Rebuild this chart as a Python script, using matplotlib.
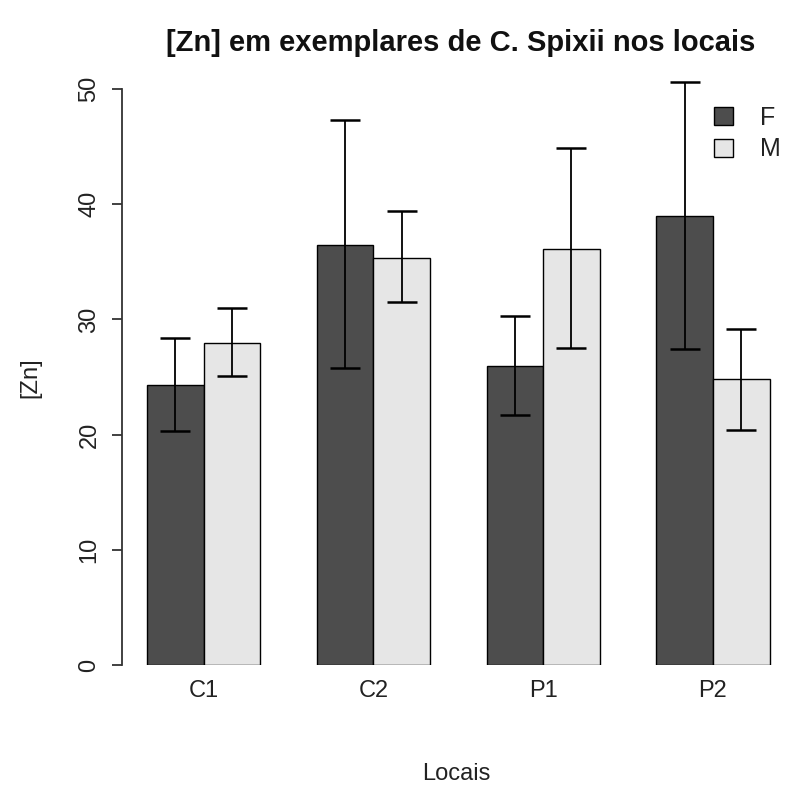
import numpy as np
import matplotlib.pyplot as plt

plt.rcParams["font.family"] = ["Liberation Sans", "DejaVu Sans"]

# Data
locais = ["C1", "C2", "P1", "P2"]
zn_f = [24.3, 36.5, 26.0, 39.0]
zn_m = [27.95, 35.3, 36.1, 24.8]
f_low = [20.3, 25.8, 21.7, 27.4]
f_high = [28.4, 47.3, 30.3, 50.6]
m_low = [25.1, 31.5, 27.5, 20.4]
m_high = [31.0, 39.4, 44.9, 29.2]

col_f = "#4D4D4D"
col_m = "#E6E6E6"

W, H = 787, 785
fig = plt.figure(figsize=(W / 100, H / 100), dpi=100)

# axes placed in pixel coordinates (R style plot region)
left_px, right_px = 122.1, 794.5
bottom_px, top_px = 665, 66
ax = fig.add_axes([left_px / W, (H - bottom_px) / H,
                   (right_px - left_px) / W, (bottom_px - top_px) / H])

# R barplot, beside=TRUE: bars of width 1, one bar gap between groups
x_f = np.array([1.5, 4.5, 7.5, 10.5])
x_m = x_f + 1
centers = x_f + 0.5

ax.bar(x_f, zn_f, width=1, color=col_f, edgecolor="black", linewidth=1, label="F")
ax.bar(x_m, zn_m, width=1, color=col_m, edgecolor="black", linewidth=1, label="M")

zn_f_a = np.array(zn_f)
zn_m_a = np.array(zn_m)
ax.errorbar(x_f, zn_f_a,
            yerr=[zn_f_a - np.array(f_low), np.array(f_high) - zn_f_a],
            fmt="none", ecolor="black", elinewidth=1.3, capsize=10.5,
            capthick=1.8, clip_on=False)
ax.errorbar(x_m, zn_m_a,
            yerr=[zn_m_a - np.array(m_low), np.array(m_high) - zn_m_a],
            fmt="none", ecolor="black", elinewidth=1.3, capsize=10.5,
            capthick=1.8, clip_on=False)

ax.set_xlim(0.56, 12.44)
ax.set_ylim(0, 52)

for s in ["top", "right", "bottom"]:
    ax.spines[s].set_visible(False)
ax.spines["left"].set_bounds(0, 50)
ax.spines["left"].set_linewidth(1.3)
ax.spines["left"].set_color("#333333")

ax.set_yticks([0, 10, 20, 30, 40, 50])
ax.tick_params(axis="y", length=7.5, width=1.3, color="#333333", pad=8,
               labelsize=17, labelcolor="#222222")
for lab in ax.get_yticklabels():
    lab.set_rotation(90)
    lab.set_va("center")

ax.set_xticks(centers)
ax.set_xticklabels(locais)
ax.tick_params(axis="x", length=0, pad=11, labelsize=17, labelcolor="#222222")

fig.text(30 / W, 1 - 378 / H, "[Zn]", rotation=90, ha="center", va="center",
         fontsize=17, color="#222222")
fig.text(456 / W, 1 - 774 / H, "Locais", ha="center", va="center",
         fontsize=17, color="#222222")
fig.text(461 / W, 1 - 43 / H, "[Zn] em exemplares de C. Spixii nos locais",
         ha="center", va="center", fontsize=21, fontweight="bold",
         color="#111111")

leg = fig.legend(loc="upper left", bbox_to_anchor=(704 / W, 1 - 96 / H),
                 frameon=False, fontsize=18, handlelength=0.75,
                 handleheight=0.75, handletextpad=1.1, labelspacing=0.3,
                 borderaxespad=0)
for t in leg.get_texts():
    t.set_color("#222222")

fig.savefig("out.png", dpi=100)
